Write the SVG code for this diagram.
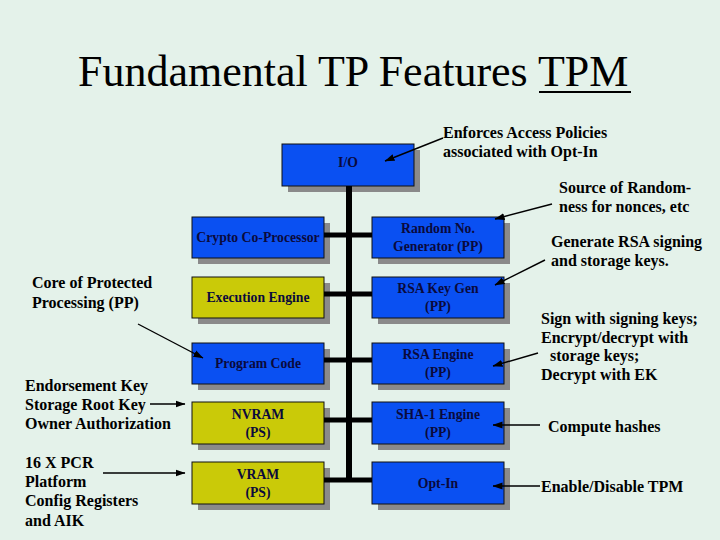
<svg xmlns="http://www.w3.org/2000/svg" width="720" height="540" viewBox="0 0 720 540">
<style>
.bg{fill:#e4f2ea}
.title{font-family:"Liberation Serif","Times New Roman",serif;font-size:44px;fill:#000}
.ann{font-family:"Liberation Serif","Times New Roman",serif;font-size:16px;font-weight:bold;fill:#000}
.lbl{font-family:"Liberation Serif","Times New Roman",serif;font-size:13.7px;font-weight:bold;fill:#0a0a3c;text-anchor:middle}
.shadow{fill:#8a8a8a}
.blue{fill:#0a50f2;stroke:#111;stroke-width:1}
.olive{fill:#caca08;stroke:#111;stroke-width:1}
.bus{stroke:#000;fill:none}
.arr{stroke:#000;stroke-width:1.4;fill:none}
</style>
<defs>
<marker id="ah" viewBox="0 0 10 8" refX="9.5" refY="4" markerWidth="10" markerHeight="8" markerUnits="userSpaceOnUse" orient="auto">
<path d="M0,0.5 L10,4 L0,7.5 z" fill="#000"/>
</marker>
</defs>
<rect class="bg" x="0" y="0" width="720" height="540"/>
<text class="title" x="78" y="86">Fundamental TP Features TPM</text>
<line x1="539" y1="92" x2="631" y2="92" stroke="#000" stroke-width="2"/>

<g id="io">
<rect class="shadow" x="288" y="150" width="132" height="42"/>
<rect class="blue" x="282" y="144" width="132" height="42"/>
<text class="lbl" x="348" y="167">I/O</text>
</g>
<g id="crypto">
<rect class="shadow" x="198" y="223" width="132" height="41"/>
<rect class="blue" x="192" y="217" width="132" height="41"/>
<text class="lbl" x="258" y="242">Crypto Co-Processor</text>
</g>
<g id="exec">
<rect class="shadow" x="198" y="283" width="132" height="41"/>
<rect class="olive" x="192" y="277" width="132" height="41"/>
<text class="lbl" x="258" y="302">Execution Engine</text>
</g>
<g id="program">
<rect class="shadow" x="198" y="349" width="132" height="41"/>
<rect class="blue" x="192" y="343" width="132" height="41"/>
<text class="lbl" x="258" y="368">Program Code</text>
</g>
<g id="nvram">
<rect class="shadow" x="198" y="408" width="132" height="42"/>
<rect class="olive" x="192" y="402" width="132" height="42"/>
<text class="lbl" x="258" y="419">NVRAM</text>
<text class="lbl" x="258" y="437">(PS)</text>
</g>
<g id="vram">
<rect class="shadow" x="198" y="468" width="132" height="42"/>
<rect class="olive" x="192" y="462" width="132" height="42"/>
<text class="lbl" x="258" y="479">VRAM</text>
<text class="lbl" x="258" y="497">(PS)</text>
</g>
<g id="rng">
<rect class="shadow" x="378" y="223" width="132" height="41"/>
<rect class="blue" x="372" y="217" width="132" height="41"/>
<text class="lbl" x="438" y="233">Random No.</text>
<text class="lbl" x="438" y="251">Generator (PP)</text>
</g>
<g id="rsakeygen">
<rect class="shadow" x="378" y="283" width="132" height="41"/>
<rect class="blue" x="372" y="277" width="132" height="41"/>
<text class="lbl" x="438" y="293">RSA Key Gen</text>
<text class="lbl" x="438" y="311">(PP)</text>
</g>
<g id="rsaengine">
<rect class="shadow" x="378" y="349" width="132" height="41"/>
<rect class="blue" x="372" y="343" width="132" height="41"/>
<text class="lbl" x="438" y="359">RSA Engine</text>
<text class="lbl" x="438" y="377">(PP)</text>
</g>
<g id="sha1">
<rect class="shadow" x="378" y="408" width="132" height="42"/>
<rect class="blue" x="372" y="402" width="132" height="42"/>
<text class="lbl" x="438" y="419">SHA-1 Engine</text>
<text class="lbl" x="438" y="437">(PP)</text>
</g>
<g id="optin">
<rect class="shadow" x="378" y="468" width="132" height="42"/>
<rect class="blue" x="372" y="462" width="132" height="42"/>
<text class="lbl" x="438" y="488">Opt-In</text>
</g>

<g id="annotations">
<text class="ann" x="443" y="138">Enforces Access Policies</text>
<text class="ann" x="443" y="157">associated with Opt-In</text>
<text class="ann" x="559" y="193">Source of Random-</text>
<text class="ann" x="559" y="212">ness for nonces, etc</text>
<text class="ann" x="551" y="247">Generate RSA signing</text>
<text class="ann" x="551" y="266">and storage keys.</text>
<text class="ann" x="541" y="324">Sign with signing keys;</text>
<text class="ann" x="541" y="343">Encrypt/decrypt with</text>
<text class="ann" x="550" y="361">storage keys;</text>
<text class="ann" x="541" y="380">Decrypt with EK</text>
<text class="ann" x="548" y="432">Compute hashes</text>
<text class="ann" x="541" y="492">Enable/Disable TPM</text>
<text class="ann" x="32" y="288">Core of Protected</text>
<text class="ann" x="32" y="308">Processing (PP)</text>
<text class="ann" x="25" y="391">Endorsement Key</text>
<text class="ann" x="25" y="410">Storage Root Key</text>
<text class="ann" x="25" y="429">Owner Authorization</text>
<text class="ann" x="25" y="468">16 X PCR</text>
<text class="ann" x="25" y="487">Platform</text>
<text class="ann" x="25" y="506">Config Registers</text>
<text class="ann" x="25" y="526">and AIK</text>
</g>

<g id="connectors">
<line class="bus" x1="349" y1="186" x2="349" y2="482" stroke-width="6"/>
<line class="bus" x1="324" y1="235" x2="372" y2="235" stroke-width="5"/>
<line class="bus" x1="324" y1="294" x2="372" y2="294" stroke-width="5"/>
<line class="bus" x1="324" y1="360" x2="372" y2="360" stroke-width="5"/>
<line class="bus" x1="324" y1="420" x2="372" y2="420" stroke-width="5"/>
<line class="bus" x1="324" y1="480" x2="372" y2="480" stroke-width="5"/>
<line class="arr" x1="443" y1="138" x2="385" y2="161" marker-end="url(#ah)"/>
<line class="arr" x1="552" y1="204" x2="495" y2="219" marker-end="url(#ah)"/>
<line class="arr" x1="545" y1="260" x2="495" y2="285" marker-end="url(#ah)"/>
<line class="arr" x1="538" y1="353" x2="493" y2="366" marker-end="url(#ah)"/>
<line class="arr" x1="540" y1="425" x2="493" y2="425" marker-end="url(#ah)"/>
<line class="arr" x1="540" y1="486" x2="493" y2="486" marker-end="url(#ah)"/>
<line class="arr" x1="138" y1="324" x2="203" y2="358" marker-end="url(#ah)"/>
<line class="arr" x1="150" y1="404" x2="185" y2="404" marker-end="url(#ah)"/>
<line class="arr" x1="103" y1="473" x2="185" y2="473" marker-end="url(#ah)"/>
</g>
</svg>
